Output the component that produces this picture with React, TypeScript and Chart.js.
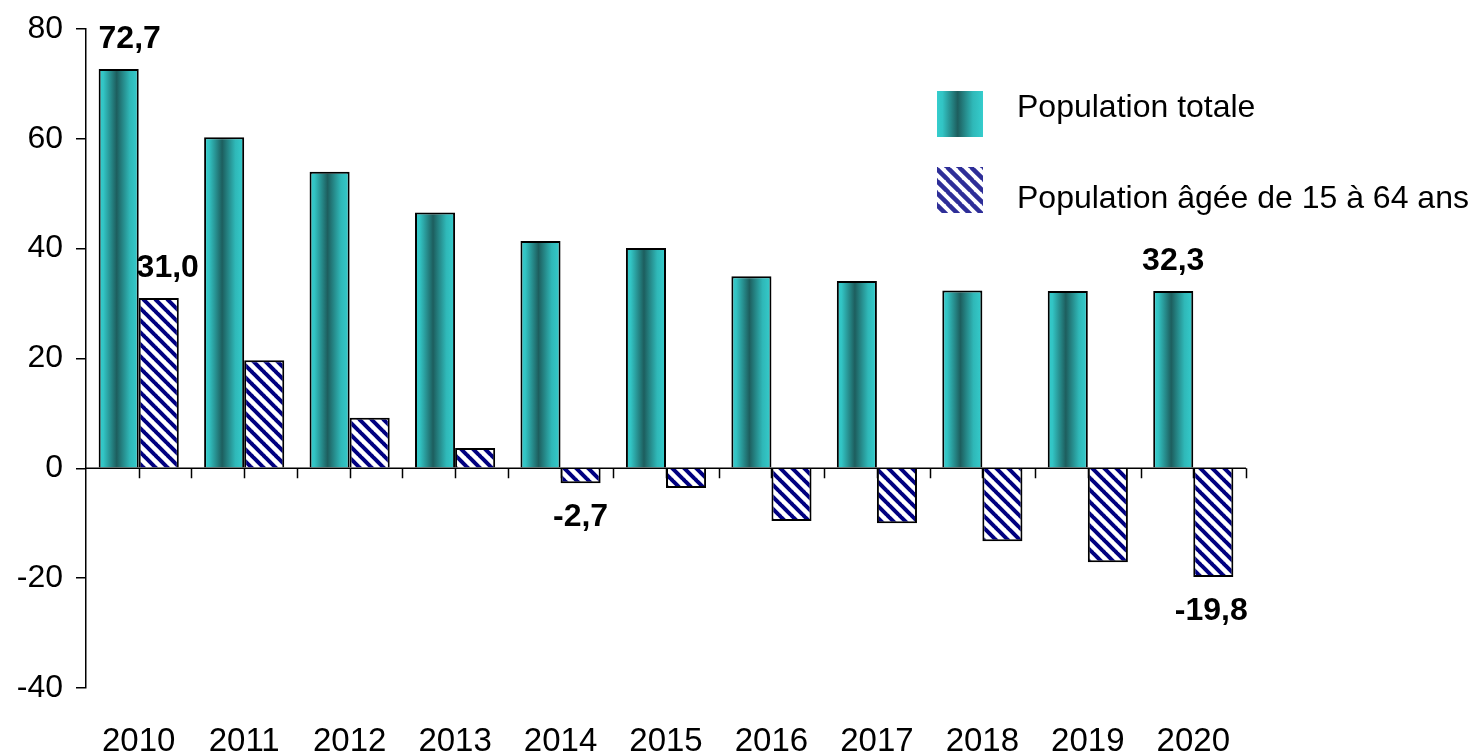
import React, { useEffect, useRef } from "react";
import { Chart, registerables } from "chart.js";

Chart.register(...registerables);

const years = ["2010", "2011", "2012", "2013", "2014", "2015", "2016", "2017", "2018", "2019", "2020"];
const totalPop = [72.7, 60.3, 54.0, 46.6, 41.4, 40.1, 35.0, 34.1, 32.4, 32.3, 32.3];
const workingPop = [31.0, 19.7, 9.2, 3.7, -2.7, -3.6, -9.6, -10.0, -13.3, -17.1, -19.8];
const seriesNames = ["Population totale", "Population âgée de 15 à 64 ans"];
const yTicks = { min: -40, max: 80, step: 20 };

const FONT = "'Liberation Sans', Arial, sans-serif";
const TEAL = "#33cccc";
const CAT_PCT = 0.76;

function addTealStops(g: CanvasGradient) {
  g.addColorStop(0, "#35cdcd");
  g.addColorStop(0.12, "#32c4c4");
  g.addColorStop(0.45, "#1d5e5e");
  g.addColorStop(0.78, "#2fb8b8");
  g.addColorStop(1, "#35cdcd");
}

function makeHatch(size: number, lw: number, color: string) {
  const c = document.createElement("canvas");
  c.width = size;
  c.height = size;
  const x = c.getContext("2d")!;
  x.fillStyle = "#ffffff";
  x.fillRect(0, 0, size, size);
  x.strokeStyle = color;
  x.lineWidth = lw;
  for (const o of [-size, 0, size]) {
    x.beginPath();
    x.moveTo(o - 1, -1);
    x.lineTo(o + size + 1, size + 1);
    x.stroke();
  }
  return c;
}

const labelSpecs = [
  { ds: 0, i: 0, dx: 11 },
  { ds: 1, i: 0, dx: 9 },
  { ds: 1, i: 4, dx: 0 },
  { ds: 0, i: 10, dx: 0 },
  { ds: 1, i: 10, dx: -2 },
];

export default function App() {
  const ref = useRef<HTMLCanvasElement | null>(null);

  useEffect(() => {
    if (!ref.current) return;
    const ctx = ref.current.getContext("2d")!;
    const hatchTile = makeHatch(12, 4, "#000080");
    const hatch = ctx.createPattern(hatchTile, "repeat")!;
    const legendHatchTile = makeHatch(12, 4.5, "#2e2e98");
    const legendHatch = ctx.createPattern(legendHatchTile, "repeat")!;

    const fmt = (v: number) => v.toFixed(1).replace(".", ",");

    const axisPlugin = {
      id: "zeroAxis",
      afterDatasetsDraw(chart: any) {
        const c = chart.ctx;
        const ys = chart.scales.y;
        const y0 = ys.getPixelForValue(0);
        const ca = chart.chartArea;
        c.save();
        c.strokeStyle = "#000";
        c.lineWidth = 1.5;
        c.beginPath();
        c.moveTo(ca.left, y0);
        c.lineTo(ca.right, y0);
        const catW = (ca.right - ca.left) / years.length;
        for (let k = 1; k <= years.length * 2; k++) {
          const px = Math.round(ca.left + (k * catW) / 2) + 0.5;
          c.moveTo(px, y0);
          c.lineTo(px, y0 + 10);
        }
        c.stroke();

        // data labels
        c.fillStyle = "#000";
        c.font = `bold 32px ${FONT}`;
        c.textAlign = "center";
        c.textBaseline = "middle";
        for (const s of labelSpecs) {
          const meta = chart.getDatasetMeta(s.ds);
          const el = meta.data[s.i];
          const v = chart.data.datasets[s.ds].data[s.i];
          const y = v >= 0 ? el.y - 30 : el.y + 34;
          c.fillText(fmt(v), el.x + s.dx, y);
        }

        // legend
        const sx = 937, sw = 46;
        const g = c.createLinearGradient(sx, 0, sx + sw, 0);
        addTealStops(g);
        c.fillStyle = g;
        c.fillRect(sx, 91, sw, 46);
        c.fillStyle = legendHatch;
        c.fillRect(sx, 167, sw, 46);
        c.fillStyle = "#000";
        c.font = `32px ${FONT}`;
        c.textAlign = "left";
        c.textBaseline = "middle";
        c.fillText(seriesNames[0], 1017, 108);
        c.fillText(seriesNames[1], 1017, 199);
        c.restore();
      },
    };

    const chart = new Chart(ctx, {
      type: "bar",
      data: {
        labels: years,
        datasets: [
          {
            label: seriesNames[0],
            data: totalPop,
            backgroundColor: (c: any) => {
              const ch = c.chart;
              const xs = ch.scales?.x;
              if (c.type !== "data" || !xs || !xs.width) return TEAL;
              const catW = xs.width / years.length;
              const bw = (catW * CAT_PCT) / 2;
              const center = xs.getPixelForValue(c.dataIndex);
              const left = center - bw;
              const gr = ch.ctx.createLinearGradient(left, 0, left + bw, 0);
              addTealStops(gr);
              return gr;
            },
            borderColor: "#000",
            borderWidth: 2,
            barPercentage: 1,
            categoryPercentage: CAT_PCT,
          },
          {
            label: seriesNames[1],
            data: workingPop,
            backgroundColor: hatch,
            borderColor: "#000",
            borderWidth: 2,
            barPercentage: 1,
            categoryPercentage: CAT_PCT,
          },
        ],
      },
      options: {
        responsive: true,
        maintainAspectRatio: false,
        animation: false,
        layout: { padding: { left: 0, right: 226, top: 29, bottom: 0 } },
        plugins: {
          legend: { display: false },
          tooltip: { enabled: false },
        },
        scales: {
          x: {
            grid: { display: false, drawTicks: false },
            border: { display: false },
            ticks: {
              color: "#000",
              font: { family: FONT, size: 33 },
              padding: 34,
              maxRotation: 0,
            },
            afterFit: (s: any) => {
              s.height = 68;
              s.paddingLeft = 0;
              s.paddingRight = 0;
            },
          },
          y: {
            min: yTicks.min,
            max: yTicks.max,
            grid: {
              drawOnChartArea: false,
              drawTicks: true,
              tickLength: 10,
              color: "#000",
              lineWidth: 1.5,
            },
            border: { display: true, color: "#000", width: 1.5 },
            ticks: {
              stepSize: yTicks.step,
              color: "#000",
              font: { family: FONT, size: 32 },
              padding: 13,
            },
            afterFit: (s: any) => {
              s.width = 86;
              s.paddingTop = 0;
              s.paddingBottom = 0;
            },
          },
        },
      },
      plugins: [axisPlugin],
    });

    return () => chart.destroy();
  }, []);

  return (
    <div style={{ position: "fixed", left: 0, top: 0, width: 1472, height: 756, background: "#fff" }}>
      <canvas ref={ref} />
    </div>
  );
}
